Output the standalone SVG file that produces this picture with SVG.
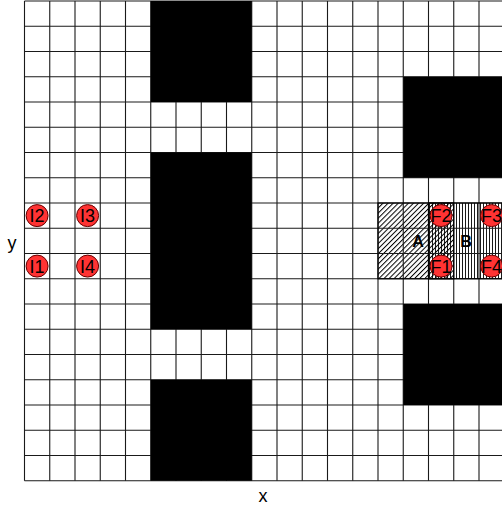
<svg xmlns="http://www.w3.org/2000/svg" width="502" height="510" viewBox="0 0 502 510">
<style>
.grid{stroke:#1a1a1a;stroke-width:1.1;fill:none}
.blk{fill:#000}
.node circle{fill:#f33;stroke:#600;stroke-width:1}
.lbl{font-family:"Liberation Sans",Arial,sans-serif;font-size:18px;fill:#000;text-anchor:middle}
.reg{font-family:"Liberation Sans",Arial,sans-serif;font-size:16px;font-weight:bold;fill:#000;text-anchor:middle}
.ax{font-family:"Liberation Sans",Arial,sans-serif;font-size:18px;fill:#000;text-anchor:middle}
.outline{fill:none;stroke:#000;stroke-width:1.2}
</style>
<defs>
<pattern id="diag" patternUnits="userSpaceOnUse" width="3.6" height="3.6" patternTransform="rotate(45)">
<line x1="0.5" y1="0" x2="0.5" y2="3.6" stroke="#000" stroke-width="1"/>
</pattern>
<pattern id="vert" patternUnits="userSpaceOnUse" width="3" height="10">
<line x1="0.5" y1="0" x2="0.5" y2="10" stroke="#000" stroke-width="0.9"/>
</pattern>
</defs>
<rect x="0" y="0" width="502" height="510" fill="#fff"/>
<g id="regions">
<rect x="378" y="203" width="75.75" height="75.75" fill="url(#diag)"/>
<rect x="428.5" y="203" width="80" height="75.75" fill="url(#vert)"/>
</g>
<g id="grid" class="grid">
<path d="M24.5 1V480.75M49.75 1V480.75M75 1V480.75M100.25 1V480.75M125.5 1V480.75M150.75 1V480.75M176 1V480.75M201.25 1V480.75M226.5 1V480.75M251.75 1V480.75M277 1V480.75M302.25 1V480.75M327.5 1V480.75M352.75 1V480.75M378 1V480.75M403.25 1V480.75M428.5 1V480.75M453.75 1V480.75M479 1V480.75"/>
<path d="M24.5 1H502M24.5 26.25H502M24.5 51.5H502M24.5 76.75H502M24.5 102H502M24.5 127.25H502M24.5 152.5H502M24.5 177.75H502M24.5 203H502M24.5 228.25H502M24.5 253.5H502M24.5 278.75H502M24.5 304H502M24.5 329.25H502M24.5 354.5H502M24.5 379.75H502M24.5 405H502M24.5 430.25H502M24.5 455.5H502M24.5 480.75H502"/>
</g>
<g id="obstacles">
<rect class="blk" x="150.75" y="1" width="101" height="101"/>
<rect class="blk" x="150.75" y="152.5" width="101" height="176.75"/>
<rect class="blk" x="150.75" y="379.75" width="101" height="101"/>
<rect class="blk" x="403.25" y="76.75" width="100" height="101"/>
<rect class="blk" x="403.25" y="304" width="100" height="101"/>
</g>
<g id="region-outlines">
<rect class="outline" x="378" y="203" width="75.75" height="75.75"/>
<rect class="outline" x="428.5" y="203" width="80" height="75.75"/>
</g>
<g id="region-A"><text class="reg" x="418" y="247">A</text></g>
<g id="region-B"><text class="reg" x="466" y="247">B</text></g>
<g id="connectors"></g>
<g id="I2" class="node"><circle cx="37.1" cy="215.6" r="11"/><text class="lbl" x="37.1" y="222">I2</text></g>
<g id="I3" class="node"><circle cx="87.6" cy="215.6" r="11"/><text class="lbl" x="87.6" y="222">I3</text></g>
<g id="I1" class="node"><circle cx="37.1" cy="266.1" r="11"/><text class="lbl" x="37.1" y="272.5">I1</text></g>
<g id="I4" class="node"><circle cx="87.6" cy="266.1" r="11"/><text class="lbl" x="87.6" y="272.5">I4</text></g>
<g id="F2" class="node"><circle cx="441.1" cy="215.6" r="11"/><text class="lbl" x="441.1" y="222">F2</text></g>
<g id="F1" class="node"><circle cx="441.1" cy="266.1" r="11"/><text class="lbl" x="441.1" y="272.5">F1</text></g>
<g id="F3" class="node"><circle cx="491.6" cy="215.6" r="11"/><text class="lbl" x="491.6" y="222">F3</text></g>
<g id="F4" class="node"><circle cx="491.6" cy="266.1" r="11"/><text class="lbl" x="491.6" y="272.5">F4</text></g>
<text class="ax" x="12" y="249">y</text>
<text class="ax" x="263" y="502">x</text>
</svg>
